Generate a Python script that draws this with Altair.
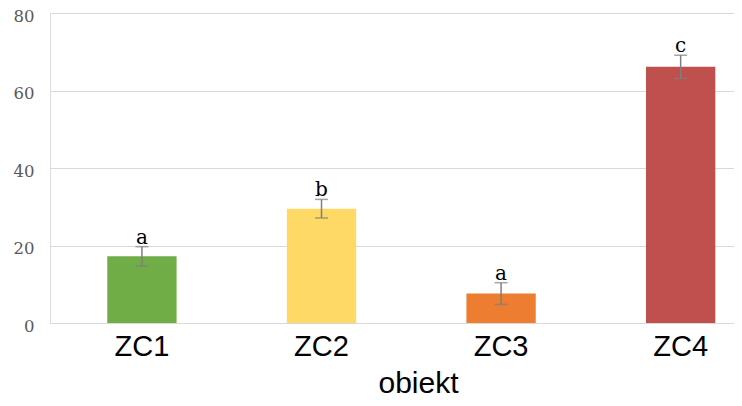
import altair as alt
import pandas as pd

categories = ["ZC1", "ZC2", "ZC3", "ZC4"]
means = [17.2, 29.5, 7.6, 66.1]
errors = [2.5, 2.4, 2.8, 3.0]
letters = ["a", "b", "a", "c"]
colors = ["#70AD47", "#FFD966", "#ED7D31", "#C0504D"]

df = pd.DataFrame({
    "obiekt": categories,
    "mean": means,
    "err": errors,
    "letter": letters,
})
df["lo"] = df["mean"] - df["err"]
df["hi"] = df["mean"] + df["err"]

xscale = alt.Scale(domain=categories, paddingInner=0.614, paddingOuter=0.2115, align=0.754)
yscale = alt.Scale(domain=[0, 80], nice=False)

x = alt.X("obiekt:N", scale=xscale, sort=categories,
          axis=alt.Axis(title="obiekt", labelAngle=0, domain=False, ticks=False, tickSize=0,
                        labelFont="Liberation Sans", labelFontSize=29, labelColor="#000000",
                        labelBaseline="alphabetic", labelPadding=32,
                        titleFont="Liberation Sans", titleFontSize=30, titleFontWeight="normal",
                        titleColor="#000000", titleX=368, titleY=69, titleAlign="center",
                        titleBaseline="alphabetic", grid=False))

bars = alt.Chart(df).mark_bar().encode(
    x=x,
    y=alt.Y("mean:Q", scale=yscale,
            axis=alt.Axis(title=None, values=[0, 20, 40, 60, 80], domain=False, ticks=False,
                          labelFont="DejaVu Serif", labelFontSize=16.5, labelColor="#595959",
                          labelPadding=16, labelOffset=3, gridColor="#D9D9D9", gridWidth=1)),
    color=alt.Color("obiekt:N", scale=alt.Scale(domain=categories, range=colors), legend=None),
)

rule = alt.Chart(df).mark_rule(color="#7F7F7F", strokeWidth=1.5).encode(
    x=alt.X("obiekt:N", scale=xscale, sort=categories),
    y=alt.Y("lo:Q", scale=yscale),
    y2="hi:Q",
)
cap_hi = alt.Chart(df).mark_tick(color="#7F7F7F", thickness=1.5, size=13, orient="horizontal").encode(
    x=alt.X("obiekt:N", scale=xscale, sort=categories),
    y=alt.Y("hi:Q", scale=yscale),
)
cap_lo = alt.Chart(df).mark_tick(color="#7F7F7F", thickness=1.5, size=13, orient="horizontal").encode(
    x=alt.X("obiekt:N", scale=xscale, sort=categories),
    y=alt.Y("lo:Q", scale=yscale),
)
text = alt.Chart(df).mark_text(font="DejaVu Serif", fontSize=20, color="#000000",
                               baseline="alphabetic", dy=-3).encode(
    x=alt.X("obiekt:N", scale=xscale, sort=categories),
    y=alt.Y("hi:Q", scale=yscale),
    text="letter:N",
)

chart = alt.layer(bars, rule, cap_hi, cap_lo, text).properties(
    width=684, height=310,
    autosize=alt.AutoSizeParams(type="none"),
    padding={"left": 42, "top": 5, "right": 0, "bottom": 75},
).configure_view(stroke=None).configure(background="#FFFFFF")

chart.save("out.html", embed_options={"renderer": "svg", "actions": False})
